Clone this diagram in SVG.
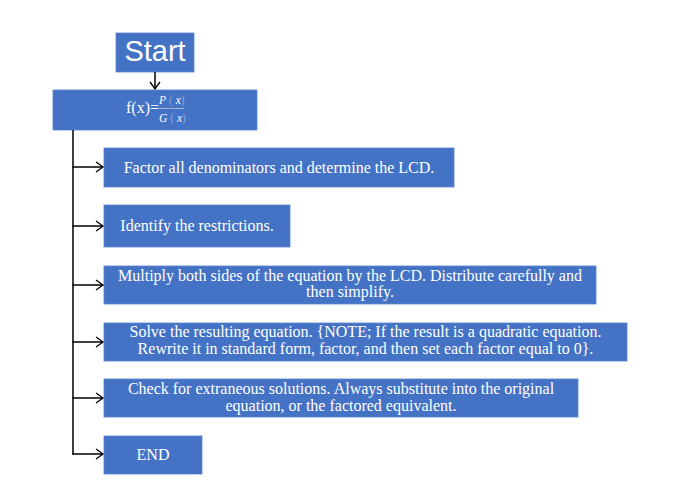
<svg xmlns="http://www.w3.org/2000/svg" width="686" height="489" viewBox="0 0 686 489">
<defs>
<style>
.box{fill:#4472C4;stroke:#5a84cf;stroke-width:0.8}
.t{font-family:"Liberation Serif","Times New Roman",serif;font-size:16px;fill:#ffffff;text-anchor:middle}
.st{font-family:"Liberation Sans",Arial,sans-serif;font-size:29px;fill:#ffffff;text-anchor:middle}
.fr{font-family:"Liberation Serif","Times New Roman",serif;font-size:11.5px;font-style:italic;fill:#ffffff}
.par{fill:#8aa6da;font-style:normal}
.con{fill:none;stroke:#000000;stroke-width:1.5}
</style>
<marker id="ah" markerWidth="10" markerHeight="12" refX="8" refY="6" orient="auto" markerUnits="userSpaceOnUse">
<path d="M1,1 L8,6 L1,11" fill="none" stroke="#000000" stroke-width="1.3"/>
</marker>
</defs>
<rect width="686" height="489" fill="#ffffff"/>
<g id="start">
<rect class="box" x="116" y="33" width="78" height="39"/>
<text class="st" x="155" y="61">Start</text>
</g>
<g id="fx">
<rect class="box" x="53" y="90" width="204" height="40"/>
<text class="t" x="142.5" y="113">f(x)=</text>
<text class="fr" x="159" y="104">P<tspan class="par"> (</tspan> x<tspan class="par">)</tspan></text>
<line x1="159" y1="108.5" x2="184" y2="108.5" stroke="#a9b4cf" stroke-width="1"/>
<text class="fr" x="159" y="122">G<tspan class="par"> (</tspan> x<tspan class="par">)</tspan></text>
</g>
<g id="step1">
<rect class="box" x="104" y="148" width="350" height="39"/>
<text class="t" x="279" y="173">Factor all denominators and determine the LCD.</text>
</g>
<g id="step2">
<rect class="box" x="104" y="205" width="186" height="42"/>
<text class="t" x="197" y="231">Identify the restrictions.</text>
</g>
<g id="step3">
<rect class="box" x="104" y="266" width="492" height="38"/>
<text class="t" x="350" y="281">Multiply both sides of the equation by the LCD. Distribute carefully and</text>
<text class="t" x="350" y="297">then simplify.</text>
</g>
<g id="step4">
<rect class="box" x="104" y="323" width="523" height="38"/>
<text class="t" x="365.5" y="337">Solve the resulting equation. {NOTE; If the result is a quadratic equation.</text>
<text class="t" x="365.5" y="354">Rewrite it in standard form, factor, and then set each factor equal to 0}.</text>
</g>
<g id="step5">
<rect class="box" x="104" y="379" width="474" height="38"/>
<text class="t" x="341" y="394">Check for extraneous solutions. Always substitute into the original</text>
<text class="t" x="341" y="411">equation, or the factored equivalent.</text>
</g>
<g id="end">
<rect class="box" x="104" y="436" width="98" height="38"/>
<text class="t" x="153" y="460">END</text>
</g>
<g id="connectors">
<line class="con" x1="155" y1="72" x2="155" y2="89" marker-end="url(#ah)"/>
<line class="con" x1="73" y1="130" x2="73" y2="454.75"/>
<line class="con" x1="72.25" y1="167" x2="103" y2="167" marker-end="url(#ah)"/>
<line class="con" x1="72.25" y1="226" x2="103" y2="226" marker-end="url(#ah)"/>
<line class="con" x1="72.25" y1="285" x2="103" y2="285" marker-end="url(#ah)"/>
<line class="con" x1="72.25" y1="342" x2="103" y2="342" marker-end="url(#ah)"/>
<line class="con" x1="72.25" y1="398" x2="103" y2="398" marker-end="url(#ah)"/>
<line class="con" x1="72.25" y1="454" x2="103" y2="454" marker-end="url(#ah)"/>
</g>
</svg>
